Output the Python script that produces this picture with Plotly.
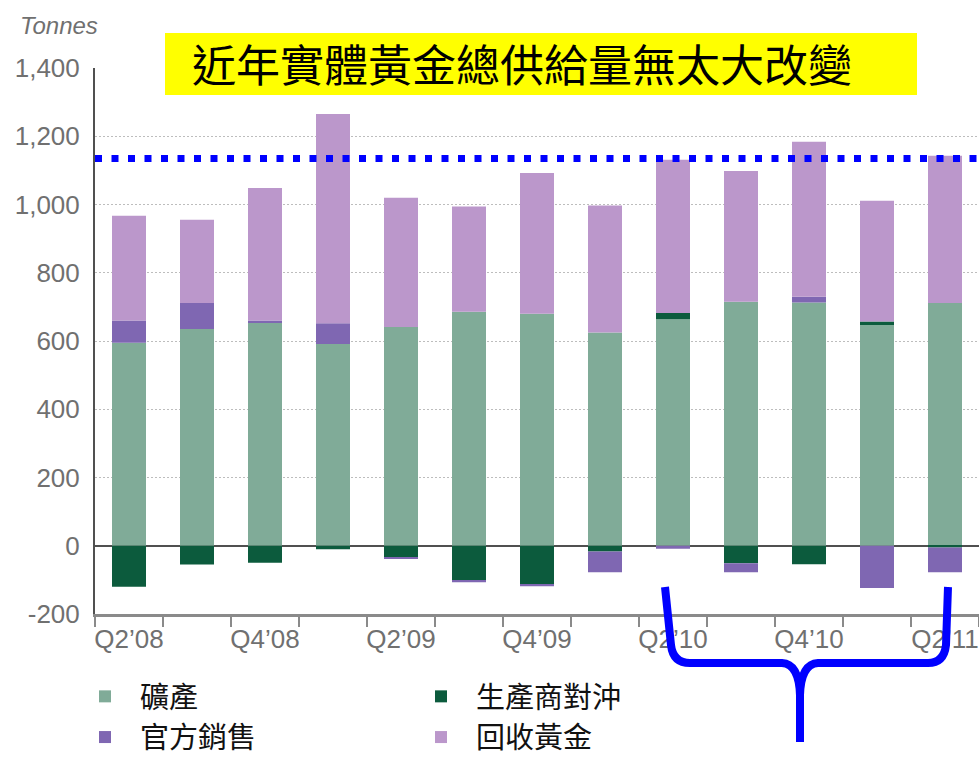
import plotly.graph_objects as go

# ---------------- data ----------------
quarters = ["Q2’08", "Q3’08", "Q4’08", "Q1’09", "Q2’09", "Q3’09", "Q4’09",
            "Q1’10", "Q2’10", "Q3’10", "Q4’10", "Q1’11", "Q2’11"]
x_tick_text = ["Q2’08", "", "Q4’08", "", "Q2’09", "", "Q4’09",
               "", "Q2’10", "", "Q4’10", "", "Q2’11"]

mine_production = [595, 635, 655, 591, 641, 686, 680, 625, 664, 715, 713, 647, 711]
producer_hedging = [-120, -55, -50, -10, -33, -100, -112, -17, 18, -51, -54, 10, -5]
official_sales = [65, 76, 5, 61, -5, -7, -7, -61, -9, -27, 17, -124, -73]
recycled_gold = [307, 244, 388, 613, 379, 308, 412, 372, 449, 383, 454, 354, 432]

series_names = ["礦產", "生產商對沖", "官方銷售", "回收黃金"]
series_values = [mine_production, producer_hedging, official_sales, recycled_gold]
series_colors = ["#80ab98", "#0c5b3d", "#7f67b2", "#bb97cb"]

y_tick_vals = [-200, 0, 200, 400, 600, 800, 1000, 1200, 1400]
y_tick_text = ["-200", "0", "200", "400", "600", "800", "1,000", "1,200", "1,400"]

reference_level = 1135
title_text = "近年實體黃金總供給量無太大改變"
unit_text = "Tonnes"

# ---------------- layout geometry (pixels) ----------------
W, H = 979, 758
ML, MR, MT, MB = 95, 0, 68, 144
PW, PH = W - ML - MR, H - MT - MB


def px(xp):
    return (xp - ML) / PW


def py(yp):
    return (H - MB - yp) / PH


fig = go.Figure()
for name, vals, col in zip(series_names, series_values, series_colors):
    fig.add_trace(go.Bar(x=quarters, y=vals, name=name,
                         marker=dict(color=col, line=dict(width=0))))

# blue dotted reference line
fig.add_shape(type="line", xref="paper", yref="y", x0=0, x1=1,
              y0=reference_level, y1=reference_level,
              line=dict(color="#0000ff", width=7, dash="7px,9.5px"), layer="above")

# yellow title box
fig.add_shape(type="rect", xref="paper", yref="paper",
              x0=px(165), x1=px(917), y0=py(95), y1=py(33),
              fillcolor="#ffff00", line=dict(width=0), layer="above")
fig.add_annotation(xref="paper", yref="paper", x=px(522), y=py(63),
                   xanchor="center", yanchor="middle",
                   text=title_text, showarrow=False,
                   font=dict(family="Noto Sans CJK TC", size=44, color="#000000"))

fig.add_annotation(xref="paper", yref="paper", x=px(18), y=py(25),
                   xanchor="left", yanchor="middle",
                   text="<i>" + unit_text + "</i>", showarrow=False,
                   font=dict(family="Liberation Sans, Arial", size=24, color="#707070"))

# blue brace under the last quarters
brace_pts = "M{0},{1} L{2},{3} Q{4},{5} {6},{7} L{8},{9} Q{10},{11} {12},{13} L{14},{15} " \
            "M{12},{13} Q{16},{17} {18},{19} L{20},{21} Q{22},{23} {24},{25} L{26},{27}"
raw = [665, 587, 671, 645, 673, 663, 690, 663, 782, 663, 799, 664, 800, 695, 800, 742,
       801, 664, 818, 663, 928, 663, 944, 663, 946, 645, 948, 587]
conv = []
for i in range(0, len(raw), 2):
    conv += [round(px(raw[i]), 5), round(py(raw[i + 1]), 5)]
fig.add_shape(type="path", xref="paper", yref="paper",
              path=brace_pts.format(*conv),
              line=dict(color="#0000ff", width=8), layer="above")

fig.update_layout(
    width=W, height=H,
    margin=dict(l=ML, r=MR, t=MT, b=MB, autoexpand=False),
    barmode="relative", bargap=0.5,
    plot_bgcolor="#ffffff", paper_bgcolor="#ffffff",
    font=dict(family="Liberation Sans, Arial", color="#707070"),
    showlegend=True,
    legend=dict(orientation="h", x=px(70), y=py(671), xanchor="left", yanchor="top",
                entrywidth=261, entrywidthmode="pixels", itemwidth=60,
                font=dict(family="Noto Sans CJK TC", size=29, color="#111111"),
                bgcolor="rgba(0,0,0,0)", traceorder="normal", tracegroupgap=0),
    xaxis=dict(type="category", categoryorder="array", categoryarray=quarters,
               range=[-0.5, len(quarters) - 0.5],
               tickmode="array", tickvals=quarters, ticktext=x_tick_text,
               tickson="boundaries", ticks="outside", ticklen=10, tickwidth=2,
               tickcolor="#8a8a8a", showline=True, linecolor="#8a8a8a", linewidth=3,
               showgrid=False, tickfont=dict(size=26, color="#707070"), tickangle=0),
    yaxis=dict(range=[-200, 1400], tickmode="array", tickvals=y_tick_vals,
               ticktext=y_tick_text, showgrid=True, gridcolor="#bdbdbd",
               griddash="2px,2px", gridwidth=1, zeroline=True, zerolinecolor="#505050",
               zerolinewidth=2, showline=True, linecolor="#505050", linewidth=2,
               ticks="", tickfont=dict(size=26, color="#707070"), ticklabelstandoff=8),
)

fig.write_html("out.html")
